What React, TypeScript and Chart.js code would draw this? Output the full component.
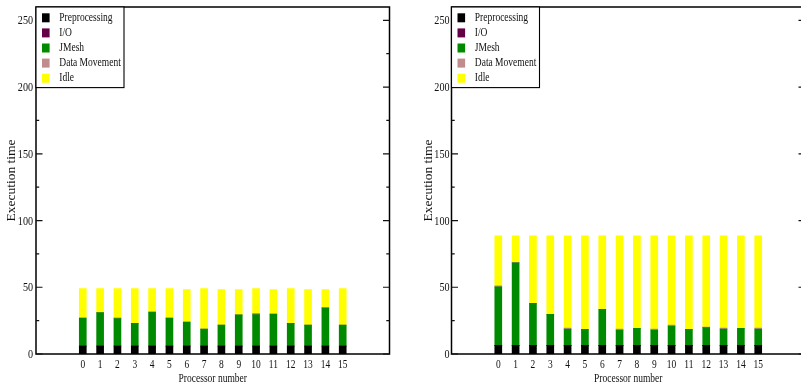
import React, { useEffect, useRef } from "react";
import { Chart, registerables } from "chart.js";

Chart.register(...registerables);

const processors = [0, 1, 2, 3, 4, 5, 6, 7, 8, 9, 10, 11, 12, 13, 14, 15];
const seriesNames = ["Preprocessing", "I/O", "JMesh", "Data Movement", "Idle"];
const seriesColors = ["#000000", "#660046", "#008a00", "#c08c8c", "#ffff00"];
const yMajorTicks = [0, 50, 100, 150, 200, 250];
const yMinorTicks = [25, 75, 125, 175, 225];
const xTitle = "Processor number";
const yTitle = "Execution time";

// Left chart
const leftPre = [6, 6, 6, 6, 6, 6, 6, 6, 6, 6, 6, 6, 6, 6, 6, 6];
const leftIO = [0, 0, 0, 0, 0, 0, 0, 0, 0, 0, 0, 0, 0, 0, 0, 0];
const leftJMesh = [21, 25, 20.5, 17, 25.5, 21, 18, 12.7, 15.7, 23.3, 23.5, 24, 17, 15.7, 28.6, 15.7];
const leftDataMove = [0, 0, 0.6, 0, 0, 0, 0, 0, 0, 0, 1, 0, 0, 0, 0, 0];
const leftIdle = [22, 18, 21.9, 26, 17.5, 22, 24.2, 30.3, 26.5, 18.9, 18.5, 18.2, 26, 26.5, 13.6, 27.3];

// Right chart
const rightPre = [6.5, 6.5, 6.5, 6.5, 6.5, 6.5, 6.5, 6.5, 6.5, 6.5, 6.5, 6.5, 6.5, 6.5, 6.5, 6.5];
const rightIO = [0, 0, 0, 0, 0, 0, 0, 0, 0, 0, 0, 0, 0, 0, 0, 0];
const rightJMesh = [43.75, 61.75, 31.5, 23.25, 12.25, 12, 27, 11.5, 12.75, 11.5, 14.5, 12, 13.25, 12.25, 12.75, 12.25];
const rightDataMove = [0.75, 0.5, 0, 0, 0.75, 0, 0, 0.75, 0, 0.75, 0.75, 0, 0.5, 0.75, 0, 0.75];
const rightIdle = [37.5, 19.75, 50.5, 58.75, 69, 70, 55, 69.75, 69.25, 69.75, 66.75, 70, 68.25, 69, 69.25, 69];

const FONT = '"Liberation Serif", "Times New Roman", serif';

type Cfg = {
  yTitleX: number; // relative to canvas
  labelGap: number;
};

function drawSquashed(ctx: CanvasRenderingContext2D, text: string, x: number, y: number, align: CanvasTextAlign, sq: number) {
  ctx.save();
  ctx.translate(x, y);
  ctx.scale(sq, 1);
  ctx.textAlign = align;
  ctx.fillText(text, 0, 0);
  ctx.restore();
}

function makeDecor(cfg: Cfg) {
  return {
    id: "decor",
    afterDraw(chart: any) {
      const { ctx, chartArea: a, scales } = chart;
      const ys = scales.y;
      const xs = scales.x;
      ctx.save();
      // frame
      ctx.strokeStyle = "#000";
      ctx.lineWidth = 1.5;
      ctx.strokeRect(a.left, a.top, a.right - a.left, a.bottom - a.top);
      // ticks
      ctx.lineWidth = 1.2;
      ctx.strokeStyle = "#111";
      const tick = (v: number, len: number) => {
        const py = ys.getPixelForValue(v);
        ctx.beginPath();
        ctx.moveTo(a.left, py);
        ctx.lineTo(a.left + len, py);
        ctx.moveTo(a.right, py);
        ctx.lineTo(a.right - len, py);
        ctx.stroke();
      };
      yMajorTicks.forEach((v) => tick(v, 6.5));
      yMinorTicks.forEach((v) => tick(v, 3.2));
      // y labels
      ctx.fillStyle = "#111";
      ctx.font = `13.5px ${FONT}`;
      ctx.textBaseline = "middle";
      yMajorTicks.forEach((v) => {
        drawSquashed(ctx, String(v), a.left - cfg.labelGap, ys.getPixelForValue(v) + 0.5, "right", 0.75);
      });
      // x labels
      ctx.font = `13.5px ${FONT}`;
      processors.forEach((p) => {
        drawSquashed(ctx, String(p), xs.getPixelForValue(p), a.bottom + 10, "center", 0.7);
      });
      // x title
      ctx.font = `12.5px ${FONT}`;
      drawSquashed(ctx, xTitle, (a.left + a.right) / 2, a.bottom + 24.5, "center", 0.76);
      // y title
      ctx.save();
      ctx.translate(cfg.yTitleX, (a.top + a.bottom) / 2);
      ctx.rotate(-Math.PI / 2);
      ctx.font = `13.5px ${FONT}`;
      ctx.textAlign = "center";
      ctx.textBaseline = "middle";
      ctx.fillText(yTitle, 0, 0);
      ctx.restore();
      // legend
      const lw = 88;
      const lh = 80.6;
      ctx.fillStyle = "#fff";
      ctx.fillRect(a.left, a.top, lw, lh);
      ctx.strokeStyle = "#000";
      ctx.lineWidth = 1.1;
      ctx.strokeRect(a.left, a.top, lw, lh);
      ctx.font = `12.5px ${FONT}`;
      ctx.textBaseline = "middle";
      chart.data.datasets.forEach((ds: any, i: number) => {
        const cy = a.top + 10.8 + i * 15.1;
        ctx.fillStyle = ds.backgroundColor;
        ctx.fillRect(a.left + 6, cy - 4.5, 7.6, 9);
        ctx.fillStyle = "#111";
        drawSquashed(ctx, ds.label, a.left + 23.3, cy, "left", 0.76);
      });
      ctx.restore();
    },
  };
}

function StackedChart(props: {
  series: number[][];
  width: number;
  padding: { left: number; right: number; top: number; bottom: number };
  cfg: Cfg;
  left: number;
}) {
  const ref = useRef<HTMLCanvasElement | null>(null);
  useEffect(() => {
    if (!ref.current) return;
    const chart = new Chart(ref.current, {
      type: "bar",
      data: {
        datasets: props.series.map((vals, si) => ({
          label: seriesNames[si],
          data: processors.map((p, i) => ({ x: p, y: vals[i] })),
          backgroundColor: seriesColors[si],
          borderWidth: 0,
          barThickness: 7,
        })),
      },
      options: {
        responsive: false,
        animation: false,
        layout: { padding: props.padding },
        plugins: { legend: { display: false }, tooltip: { enabled: false } },
        scales: {
          x: { type: "linear", min: -1, max: 16, stacked: true, display: false },
          y: { type: "linear", min: 0, max: 260, stacked: true, display: false },
        },
      },
      plugins: [makeDecor(props.cfg)],
    } as any);
    return () => chart.destroy();
  }, []);
  return (
    <canvas
      ref={ref}
      width={props.width}
      height={389}
      style={{ position: "absolute", left: props.left, top: 0, width: props.width, height: 389 }}
    />
  );
}

export default function App() {
  return (
    <div
      style={{
        position: "absolute",
        left: 0,
        top: 0,
        width: 801,
        height: 389,
        overflow: "hidden",
        background: "#fff",
      }}
    >
      <StackedChart
        series={[leftPre, leftIO, leftJMesh, leftDataMove, leftIdle]}
        width={410}
        left={0}
        padding={{ left: 36, right: 20.5, top: 7, bottom: 35 }}
        cfg={{ yTitleX: 11.7, labelGap: 3 }}
      />
      <StackedChart
        series={[rightPre, rightIO, rightJMesh, rightDataMove, rightIdle]}
        width={401}
        left={410}
        padding={{ left: 41.5, right: 6, top: 7, bottom: 35 }}
        cfg={{ yTitleX: 18.5, labelGap: 2 }}
      />
    </div>
  );
}
